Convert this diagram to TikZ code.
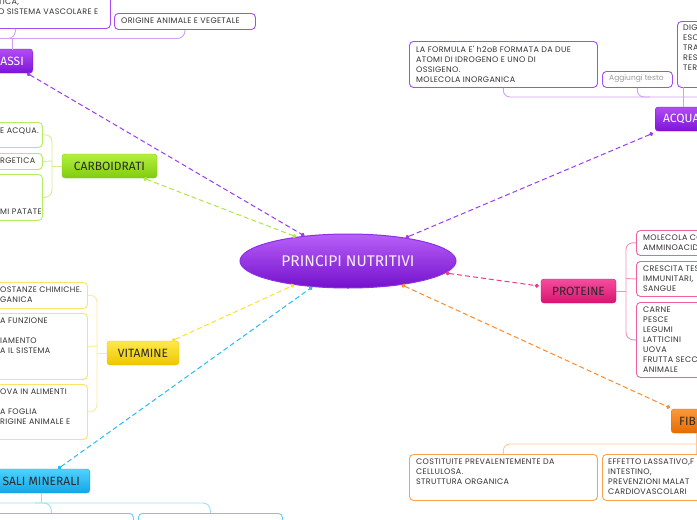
\documentclass[tikz,border=0pt]{standalone}
\usepackage{fontspec}
\usetikzlibrary{arrows.meta,shapes.geometric}
\newfontfamily\boxfont[LetterSpace=4]{Poppins}
\newfontfamily\plainfont{Poppins}
\newfontfamily\titlefont{Fira Sans}
\definecolor{boxtext}{HTML}{333333}
\definecolor{titletext}{HTML}{2B2B2B}
\definecolor{ptop}{HTML}{B14CF7}\definecolor{pbot}{HTML}{7D14D6}\definecolor{pbord}{HTML}{A64CF5}\definecolor{pbrace}{HTML}{CFA0F8}\definecolor{plink}{HTML}{9A3CF0}
\definecolor{gtop}{HTML}{B4F03C}\definecolor{gbot}{HTML}{80CC10}\definecolor{gbord}{HTML}{B8EC60}\definecolor{gbrace}{HTML}{D0F090}\definecolor{glink}{HTML}{B0E840}
\definecolor{ytop}{HTML}{FFE94A}\definecolor{ybot}{HTML}{ECC600}\definecolor{ybord}{HTML}{FDE36A}\definecolor{ybrace}{HTML}{FDEAA0}\definecolor{ylink}{HTML}{FDE030}
\definecolor{ctop}{HTML}{4FD2FF}\definecolor{cbot}{HTML}{12A6E6}\definecolor{cbord}{HTML}{5CD0F5}\definecolor{cbrace}{HTML}{9EE0F8}\definecolor{clink}{HTML}{28BDF2}
\definecolor{ktop}{HTML}{F54D9E}\definecolor{kbot}{HTML}{D81470}\definecolor{kbord}{HTML}{F0609E}\definecolor{kbrace}{HTML}{F590C0}\definecolor{klink}{HTML}{F03A86}
\definecolor{otop}{HTML}{FF9838}\definecolor{obot}{HTML}{E46C00}\definecolor{obord}{HTML}{FFA050}\definecolor{obrace}{HTML}{FFC890}\definecolor{olink}{HTML}{FF8A2A}
\definecolor{etop}{HTML}{B860F8}\definecolor{ebot}{HTML}{7410CC}\definecolor{ebord}{HTML}{8C2EE8}
\begin{document}
\begin{tikzpicture}[x=1pt,y=-1pt,
  titlebox/.style 2 args={top color=#1, bottom color=#2, draw=#2, rounded corners=3pt,
     minimum height=24pt, inner xsep=8pt, inner ysep=0pt,
     font=\titlefont\fontsize{12}{14}\selectfont, text=titletext},
  childbox/.style={draw=#1, fill=white, rounded corners=4pt, line width=0.9pt, inner sep=0pt, anchor=north west},
  childtext/.style={font=\boxfont\fontsize{8}{10}\selectfont, text=boxtext, align=left, inner sep=0pt, anchor=north west},
  linkline/.style={draw=#1, line width=1pt, dash pattern=on 5pt off 3pt, {Circle[length=4pt,sep=0pt]}-{Circle[length=4pt]}},
  bracelink/.style={draw=#1, line width=0.9pt, rounded corners=7pt}]
\useasboundingbox (0,0) rectangle (697,520);
\fill[white] (0,0) rectangle (697,520);
\clip (0,0) rectangle (697,520);

% central node
\node[ellipse, minimum width=216pt, minimum height=54pt, inner sep=0pt, top color=etop, bottom color=ebot, draw=ebord, line width=1pt,
      font=\titlefont\fontsize{15.5}{17}\selectfont, text=white!92!violet] (main) at (348,261) {PRINCIPI NUTRITIVI};

% title boxes
\node[titlebox={ptop}{pbot}, anchor=east, inner xsep=9pt, text=white] (GRASSI) at (33,61) {GRASSI};
\node[titlebox={gtop}{gbot}, minimum width=95pt] (CARB) at (109.5,166) {CARBOIDRATI};
\node[titlebox={ytop}{ybot}, minimum width=72pt] (VIT) at (143,353) {VITAMINE};
\node[titlebox={ctop}{cbot}, anchor=east, inner xsep=10pt] (SALI) at (90,481) {SALI MINERALI};
\node[titlebox={ptop}{pbot}, anchor=west, text=white] (ACQUA) at (655,119) {ACQUA};
\node[titlebox={ktop}{kbot}, minimum width=75pt] (PROT) at (578.5,291) {PROTEINE};
\node[titlebox={otop}{obot}, anchor=west] (FIBRE) at (671,421) {FIBRE};

% GRASSI children
\node[childbox=pbord, minimum width=190pt, minimum height=48pt] (g1) at (-80,-20) {};
\node[childtext] (g1t) at (-2,-1.5) {TICA,\\O SISTEMA VASCOLARE E};
\node[childbox=pbord, minimum width=141pt, minimum height=16pt] (g2) at (114,13) {};
\node[childtext, anchor=west] (g2t) at (121,21) {ORIGINE ANIMALE E VEGETALE};

% CARBOIDRATI children
\node[childbox=gbord, minimum width=102pt, minimum height=25pt] (c1) at (-60,122) {};
\node[childtext, anchor=west] (c1t) at (0,131) {E ACQUA.};
\node[childbox=gbord, minimum width=102pt, minimum height=16pt] (c2) at (-60,153) {};
\node[childtext, anchor=west] (c2t) at (0,161) {RGETICA};
\node[childbox=gbord, minimum width=102pt, minimum height=46pt] (c3) at (-60,174) {};
\node[childtext, anchor=west] (c3t) at (0,212) {MI PATATE};

% VITAMINE children
\node[childbox=ybord, minimum width=147pt, minimum height=26pt] (v1) at (-60,282) {};
\node[childtext] (v1t) at (0,287) {OSTANZE CHIMICHE.\\GANICA};
\node[childbox=ybord, minimum width=147pt, minimum height=66pt] (v2) at (-60,313) {};
\node[childtext] (v2t) at (0,318) {A FUNZIONE\\[10pt]IAMENTO\\A IL SISTEMA};
\node[childbox=ybord, minimum width=147pt, minimum height=55pt] (v3) at (-60,384) {};
\node[childtext] (v3t) at (0,389) {OVA IN ALIMENTI\\[10pt]A FOGLIA\\RIGINE ANIMALE E};

% SALI MINERALI children
\node[childbox=cbord, minimum width=164pt, minimum height=40pt] (s1) at (-31,513) {};
\node[childbox=cbord, minimum width=144pt, minimum height=40pt] (s2) at (138,513) {};

% ACQUA children
\node[childbox=pbord, minimum width=188pt, minimum height=46pt] (a1) at (409,41) {};
\node[childtext] (a1t) at (416,46) {LA FORMULA E' h2oB FORMATA DA DUE\\ATOMI DI IDROGENO E UNO DI\\OSSIGENO.\\MOLECOLA INORGANICA};
\node[childbox=pbord, minimum width=70pt, minimum height=16pt] (a2) at (602,71) {};
\node[childtext, anchor=west, text=black!40, font=\plainfont\fontsize{7.5}{10}\selectfont] (a2t) at (609,79) {Aggiungi testo};
\node[childbox=pbord, minimum width=60pt, minimum height=66pt] (a3) at (677,21) {};
\node[childtext] (a3t) at (683,25) {DIG\\ESC\\TRA\\RES\\TER};

% PROTEINE children
\node[childbox=kbord, minimum width=80pt, minimum height=25pt] (p1) at (636,230) {};
\node[childtext] (p1t) at (643,235) {MOLECOLA CO\\AMMINOACID};
\node[childbox=kbord, minimum width=80pt, minimum height=35pt] (p2) at (636,261) {};
\node[childtext] (p2t) at (643,266) {CRESCITA TES\\IMMUNITARI,\\SANGUE};
\node[childbox=kbord, minimum width=80pt, minimum height=75pt] (p3) at (636,302) {};
\node[childtext] (p3t) at (643,307) {CARNE\\PESCE\\LEGUMI\\LATTICINI\\UOVA\\FRUTTA SECC.\\ANIMALE};

% FIBRE children
\node[childbox=obord, minimum width=188pt, minimum height=46pt] (f1) at (409,454) {};
\node[childtext] (f1t) at (416,459) {COSTITUITE PREVALENTEMENTE DA\\CELLULOSA.\\STRUTTURA ORGANICA};
\node[childbox=obord, minimum width=188pt, minimum height=46pt] (f2) at (602,454) {};
\node[childtext] (f2t) at (608,459) {EFFETTO LASSATIVO,F\\INTESTINO,\\PREVENZIONI MALAT\\CARDIOVASCOLARI};

% brace connectors
\coordinate (gbar) at (12,38.5);
\draw[bracelink=pbrace] (-20,38.5) -- (184.5,38.5) -- (g2.south);
\draw[bracelink=pbrace] (g1.south) -- (15,38.5) -- (5,38.5);
\draw[bracelink=pbrace] (gbar) -- (12,49.5);

\draw[bracelink=gbrace] (c1.east) -- (52,134.5) -- (52,197) -- (c3.east);
\draw[bracelink=gbrace] (c2.east) -- (52,161);
\draw[bracelink=gbrace] (52,166) -- (CARB.west);

\draw[bracelink=ybrace] (v1.east) -- (97,295) -- (97,411.5) -- (v3.east);
\draw[bracelink=ybrace] (v2.east) -- (97,346);
\draw[bracelink=ybrace] (97,353) -- (VIT.west);

\draw[bracelink=cbrace] (-20,503) -- (210,503) -- (s2.north);
\draw[bracelink=cbrace] (35,503) -- (51,503) -- (s1.north);
\draw[bracelink=cbrace] (SALI.south) -- (SALI.south |- 0,503);

\draw[bracelink=pbrace] (a1.south) -- (503,97) -- (720,97);
\draw[bracelink=pbrace] (a2.south) -- (637,97) -- (650,97);
\draw[bracelink=pbrace] (683,87) -- (683,107);

\draw[bracelink=kbrace] (p1.west) -- (626,242.5) -- (626,339.5) -- (p3.west);
\draw[bracelink=kbrace] (p2.west) -- (626,278.5);
\draw[bracelink=kbrace] (626,291) -- (PROT.east);

\draw[bracelink=obrace] (f1.north) -- (503,444) -- (720,444);
\draw[bracelink=obrace] (696,433) -- (696,454);

% dashed links
\draw[linkline=plink] ([xshift=-6pt]GRASSI.south east) -- (main.150);
\draw[linkline=glink] ([xshift=34pt]CARB.south) -- (main.155);
\draw[linkline=ylink] ([xshift=29pt]VIT.north) -- (main.204);
\draw[linkline=clink] ([xshift=-32pt]SALI.north east) -- (main.216);
\draw[linkline=plink] ([xshift=-2pt,yshift=-2pt]ACQUA.south west) -- (main.22);
\draw[linkline=klink] (main.-7) -- ([xshift=-2pt,yshift=5pt]PROT.west);
\draw[linkline=olink] (main.-24) -- ([xshift=-1pt,yshift=1pt]FIBRE.north west);
\end{tikzpicture}
\end{document}
